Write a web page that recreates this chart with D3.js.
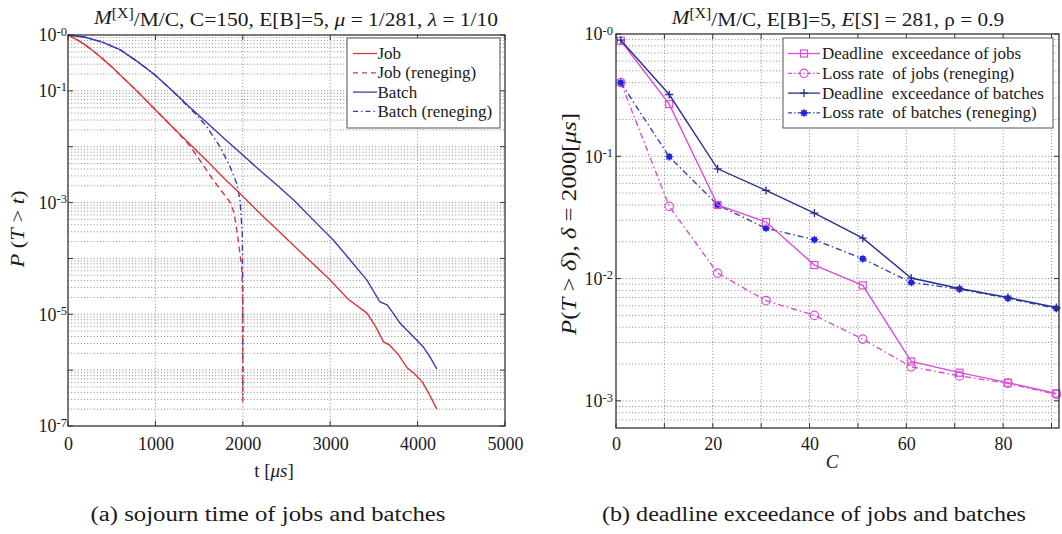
<!DOCTYPE html>
<html><head><meta charset="utf-8">
<script src="https://cdn.jsdelivr.net/npm/d3@7"></script>
<style>
body{margin:0;background:#fff}
text{font-family:"Liberation Serif","Times New Roman",serif;fill:#1a1a1a}
.grid{stroke:#8a8a8a;stroke-width:1;stroke-dasharray:1,2.2;fill:none}
</style></head><body>
<svg id="c" width="1062" height="534"></svg>
<script>
// ---------------- DATA (left: sojourn time) ----------------
const jobT = [0,100,200,300,400,500,600,700,800,900,1000,1200,1400,1600,1800,2000,2200,2400,2600,2800,3000,3200,3420,3520,3610,3680,3780,3880,3960,4050,4130,4220];
const jobP = [1,0.83,0.66,0.50,0.37,0.27,0.19,0.135,0.095,0.066,0.046,0.022,0.011,5.4e-3,2.6e-3,1.3e-3,6.3e-4,3.2e-4,1.6e-4,8.1e-5,4.1e-5,1.9e-5,1.05e-5,6.0e-6,3.2e-6,2.8e-6,1.9e-6,1.1e-6,8.7e-7,6.3e-7,3.8e-7,2.0e-7];
const jobRenT = [0,100,200,300,400,500,600,700,800,900,1000,1200,1360,1450,1550,1650,1750,1854,1900,1937,1965,1987,1997,2000,2000];
const jobRenP = [1,0.83,0.66,0.50,0.37,0.27,0.19,0.135,0.095,0.066,0.046,0.022,0.012,7.8e-3,4.6e-3,2.7e-3,1.66e-3,1.02e-3,6.6e-4,2.8e-4,1.3e-4,7e-5,2.5e-5,6e-6,2.6e-7];
const batchT = [0,200,400,600,800,1000,1200,1400,1600,1800,2000,2200,2400,2600,2800,3040,3230,3420,3570,3650,3720,3800,3950,4065,4140,4220];
const batchP = [1,0.91,0.74,0.54,0.33,0.19,0.098,0.05,0.026,0.0135,7.1e-3,3.7e-3,2.0e-3,1.05e-3,5.0e-4,2.1e-4,9.3e-5,4.1e-5,1.66e-5,1.48e-5,1.05e-5,6.9e-6,4.0e-6,2.6e-6,1.74e-6,1.05e-6];
const batchRenT = [0,200,400,600,800,1000,1200,1300,1450,1586,1739,1854,1930,1968,1994,2000,2000];
const batchRenP = [1,0.91,0.74,0.54,0.33,0.19,0.098,0.068,0.040,0.023,0.010,4.4e-3,2.2e-3,1.1e-3,2.8e-4,1.8e-5,3.5e-7];
const xTicksL = [0,1000,2000,3000,4000,5000];
const yTicksL = [1,1e-1,1e-3,1e-5,1e-7];
const yTickLabL = ["-0","-1","-3","-5","-7"];

// ---------------- DATA (right: deadline exceedance) ----------------
const cVals = [1,11,21,31,41,51,61,71,81,91];
const jobDeadline = [0.88,0.267,0.040,0.029,0.0129,0.0088,0.0021,0.0017,0.00141,0.00115];
const jobLoss = [0.40,0.039,0.0111,0.0066,0.0050,0.0032,0.0019,0.0016,0.00139,0.00113];
const batchDeadline = [0.89,0.32,0.079,0.0526,0.0343,0.0214,0.0101,0.0083,0.0070,0.0058];
const batchLoss = [0.40,0.099,0.040,0.0258,0.0208,0.0145,0.0093,0.0082,0.0069,0.0057];
const xTicksR = [0,20,40,60,80];
const xGridR = [10,20,30,40,50,60,70,80,90];
const yTicksR = [1,1e-1,1e-2,1e-3];
const yTickLabR = ["-0","-1","-2","-3"];

// ---------------- DRAW ----------------
const svg = d3.select("#c");
const RED = "#d63a3a", BLUE = "#3b3bb0", MAG = "#d94fd6", NAVY = "#27308f", BBLUE = "#2222e6";

function minorLogs(lo, hi){ const out=[]; for(let e=Math.floor(Math.log10(lo)); e<Math.ceil(Math.log10(hi)); e++){ for(let k=1;k<=9;k++){ const v=k*Math.pow(10,e); if(v>lo*1.0001 && v<hi*0.9999) out.push(v);} } return out; }

function frame(g, B){
  g.append("rect").attr("x",B.x0).attr("y",B.y0).attr("width",B.x1-B.x0).attr("height",B.y1-B.y0)
   .attr("fill","none").attr("stroke","#333").attr("stroke-width",1.3);
}
function styleAxis(ax){
  ax.attr("font-family",null).attr("font-size",null);
  ax.select(".domain").remove();
  ax.selectAll(".tick line").remove();
  ax.selectAll("text").style("font-size","18px").attr("fill","#1a1a1a");
}
function supLabels(ax, labs){
  ax.selectAll(".tick text").each(function(d,i){
    const t = d3.select(this); t.text("");
    t.append("tspan").text("10");
    t.append("tspan").attr("dy","-0.45em").style("font-size","12.5px").text(labs[i]);
  });
}
function ticksIn(g, B, xs, x, ys, y){
  xs.forEach(v=>{ g.append("line").attr("x1",x(v)).attr("x2",x(v)).attr("y1",B.y1).attr("y2",B.y1-5).attr("stroke","#333");
                  g.append("line").attr("x1",x(v)).attr("x2",x(v)).attr("y1",B.y0).attr("y2",B.y0+5).attr("stroke","#333");});
  ys.forEach(v=>{ g.append("line").attr("x1",B.x0).attr("x2",B.x0+5).attr("y1",y(v)).attr("y2",y(v)).attr("stroke","#333");
                  g.append("line").attr("x1",B.x1).attr("x2",B.x1-5).attr("y1",y(v)).attr("y2",y(v)).attr("stroke","#333");});
}

// ===== LEFT CHART =====
const L = {x0:68, x1:505, y0:35, y1:426};
const xL = d3.scaleLinear().domain([0,5000]).range([L.x0,L.x1]);
const yL = d3.scaleLog().domain([1e-7,1]).range([L.y1,L.y0]);
const gL = svg.append("g");
gL.append("rect").attr("x",L.x0).attr("y",L.y0).attr("width",L.x1-L.x0).attr("height",L.y1-L.y0).attr("fill","#fff");
minorLogs(1e-7,1).forEach(v=>gL.append("line").attr("class","grid").attr("x1",L.x0).attr("x2",L.x1).attr("y1",yL(v)).attr("y2",yL(v)));
[1000,2000,3000,4000].forEach(v=>gL.append("line").attr("class","grid").attr("x1",xL(v)).attr("x2",xL(v)).attr("y1",L.y0).attr("y2",L.y1));

const lineL = (T,P)=> d3.line().x((d,i)=>xL(T[i])).y((d,i)=>yL(P[i]))(T);
const seriesL = [
  {T:batchT,P:batchP,c:BLUE,dash:null},
  {T:batchRenT,P:batchRenP,c:BLUE,dash:"6,3,1.5,3"},
  {T:jobT,P:jobP,c:RED,dash:null},
  {T:jobRenT,P:jobRenP,c:RED,dash:"6,4"}
];
seriesL.forEach(s=>gL.append("path").attr("d",lineL(s.T,s.P)).attr("fill","none").attr("stroke",s.c)
  .attr("stroke-width",1.4).attr("stroke-dasharray",s.dash));
frame(gL,L);
ticksIn(gL,L,xTicksL,xL,[1,1e-1,1e-2,1e-3,1e-4,1e-5,1e-6,1e-7],yL);

const axXL = gL.append("g").attr("transform",`translate(0,${L.y1})`).call(d3.axisBottom(xL).tickValues(xTicksL).tickSize(0).tickPadding(11).tickFormat(d3.format("d")));
styleAxis(axXL);
const axYL = gL.append("g").attr("transform",`translate(${L.x0},0)`).call(d3.axisLeft(yL).tickValues(yTicksL).tickSize(0).tickPadding(1));
styleAxis(axYL); supLabels(axYL,yTickLabL);

// legend left
const legL = [{name:"Job",c:RED,dash:null},{name:"Job (reneging)",c:RED,dash:"5,4"},{name:"Batch",c:BLUE,dash:null},{name:"Batch (reneging)",c:BLUE,dash:"5,3,1.5,3"}];
gL.append("rect").attr("x",347).attr("y",38).attr("width",153).attr("height",90).attr("fill","#fff").attr("stroke","#555").attr("stroke-width",1);
legL.forEach((s,i)=>{
  const y = 53.5 + i*19.3;
  gL.append("line").attr("x1",353).attr("x2",377).attr("y1",y).attr("y2",y).attr("stroke",s.c).attr("stroke-width",1.3).attr("stroke-dasharray",s.dash);
  gL.append("text").attr("x",377.5).attr("y",y+5.5).style("font-size","17px").text(s.name);
});
// titles / labels left
const tL = gL.append("g").attr("transform","translate(296,24) scale(1.13,1)")
  .append("text").attr("text-anchor","middle").style("font-size","19px");
tL.append("tspan").style("font-style","italic").text("M");
tL.append("tspan").attr("dy","-0.45em").style("font-size","14px").text("[X]");
tL.append("tspan").attr("dy","0.45em").text("/M/C, C=150, E[B]=5, ");
tL.append("tspan").style("font-style","italic").text("μ");
tL.append("tspan").text(" = 1/281, ");
tL.append("tspan").style("font-style","italic").text("λ");
tL.append("tspan").text(" = 1/10");

const xlabL = gL.append("text").attr("x",274).attr("y",477).attr("text-anchor","middle").style("font-size","19px");
xlabL.append("tspan").text("t [");
xlabL.append("tspan").style("font-style","italic").text("μs");
xlabL.append("tspan").text("]");

const ylabL = gL.append("text").attr("transform","translate(24,229) rotate(-90)").attr("text-anchor","middle").style("font-size","19px")
  .attr("textLength",77).attr("lengthAdjust","spacingAndGlyphs");
ylabL.append("tspan").style("font-style","italic").text("P");
ylabL.append("tspan").text(" (");
ylabL.append("tspan").style("font-style","italic").text("T");
ylabL.append("tspan").text(" > ");
ylabL.append("tspan").style("font-style","italic").text("t");
ylabL.append("tspan").text(")");

gL.append("text").attr("x",268).attr("y",521).attr("text-anchor","middle").style("font-size","20px").attr("textLength",355).attr("lengthAdjust","spacingAndGlyphs").text("(a) sojourn time of jobs and batches");

// ===== RIGHT CHART =====
const R = {x0:616, x1:1059, y0:34, y1:428};
const xR = d3.scaleLinear().domain([0,91.55]).range([R.x0,R.x1]);
const yR = d3.scaleLog().domain([6e-4,1]).range([R.y1,R.y0]);
const gR = svg.append("g");
gR.append("rect").attr("x",R.x0).attr("y",R.y0).attr("width",R.x1-R.x0).attr("height",R.y1-R.y0).attr("fill","#fff");
minorLogs(6e-4,1).forEach(v=>gR.append("line").attr("class","grid").attr("x1",R.x0).attr("x2",R.x1).attr("y1",yR(v)).attr("y2",yR(v)));
xGridR.forEach(v=>gR.append("line").attr("class","grid").attr("x1",xR(v)).attr("x2",xR(v)).attr("y1",R.y0).attr("y2",R.y1));

const lineR = vals => d3.line().x((d,i)=>xR(cVals[i])).y(d=>yR(d))(vals);
const seriesR = [
  {v:jobLoss,c:MAG,dash:"6,3,1.5,3",m:"circle",name:"Loss rate  of jobs (reneging)"},
  {v:batchLoss,c:"#3a46a8",dash:"6,3,1.5,3",m:"star",name:"Loss rate  of batches (reneging)"},
  {v:jobDeadline,c:MAG,dash:null,m:"square",name:"Deadline  exceedance of jobs"},
  {v:batchDeadline,c:NAVY,dash:null,m:"plus",name:"Deadline  exceedance of batches"}
];
function marker(g,type,x,y){
  if(type==="square") g.append("rect").attr("x",x-3.5).attr("y",y-3.5).attr("width",7).attr("height",7).attr("fill","none").attr("stroke",MAG).attr("stroke-width",1.2);
  else if(type==="circle") g.append("circle").attr("cx",x).attr("cy",y).attr("r",4.2).attr("fill","none").attr("stroke",MAG).attr("stroke-width",1.2);
  else if(type==="plus"){ g.append("path").attr("d",`M${x-4},${y}H${x+4}M${x},${y-4}V${y+4}`).attr("stroke",NAVY).attr("stroke-width",1.3); }
  else { g.append("path").attr("d",`M${x-4},${y}H${x+4}M${x},${y-4}V${y+4}M${x-3},${y-3}L${x+3},${y+3}M${x-3},${y+3}L${x+3},${y-3}`).attr("stroke",BBLUE).attr("stroke-width",1);
         g.append("circle").attr("cx",x).attr("cy",y).attr("r",3).attr("fill",BBLUE); }
}
seriesR.forEach(s=>{
  gR.append("path").attr("d",lineR(s.v)).attr("fill","none").attr("stroke",s.c).attr("stroke-width",1.4).attr("stroke-dasharray",s.dash);
  s.v.forEach((d,i)=>marker(gR,s.m,xR(cVals[i]),yR(d)));
});
frame(gR,R);
ticksIn(gR,R,xGridR.concat([0]),xR,[1,1e-1,1e-2,1e-3],yR);

const axXR = gR.append("g").attr("transform",`translate(0,${R.y1})`).call(d3.axisBottom(xR).tickValues(xTicksR).tickSize(0).tickPadding(9).tickFormat(d3.format("d")));
styleAxis(axXR);
const axYR = gR.append("g").attr("transform",`translate(${R.x0},0)`).call(d3.axisLeft(yR).tickValues(yTicksR).tickSize(0).tickPadding(3));
styleAxis(axYR); supLabels(axYR,yTickLabR);

// legend right
const legR = [seriesR[2],seriesR[0],seriesR[3],seriesR[1]];
gR.append("rect").attr("x",783).attr("y",38).attr("width",270).attr("height",90).attr("fill","#fff").attr("stroke","#555").attr("stroke-width",1);
legR.forEach((s,i)=>{
  const y = 53.5 + i*19.8;
  gR.append("line").attr("x1",788).attr("x2",820).attr("y1",y).attr("y2",y).attr("stroke",s.c).attr("stroke-width",1.3).attr("stroke-dasharray",s.dash?"4,2,1.5,2":null);
  marker(gR,s.m,804,y);
  gR.append("text").attr("x",822).attr("y",y+5.5).style("font-size","17px").style("white-space","pre").text(s.name);
});

const tR = gR.append("g").attr("transform","translate(838,24) scale(1.12,1)")
  .append("text").attr("text-anchor","middle").style("font-size","19px");
tR.append("tspan").style("font-style","italic").text("M");
tR.append("tspan").attr("dy","-0.45em").style("font-size","14px").text("[X]");
tR.append("tspan").attr("dy","0.45em").text("/M/C, E[B]=5, ");
tR.append("tspan").style("font-style","italic").text("E");
tR.append("tspan").text("[");
tR.append("tspan").style("font-style","italic").text("S");
tR.append("tspan").text("] = 281, ρ = 0.9");

gR.append("text").attr("x",832).attr("y",468).attr("text-anchor","middle").style("font-size","19px").style("font-style","italic").text("C");

const ylabR = gR.append("text").attr("transform","translate(576,224) rotate(-90)").attr("text-anchor","middle").style("font-size","20px")
  .attr("textLength",222).attr("lengthAdjust","spacingAndGlyphs");
ylabR.append("tspan").style("font-style","italic").text("P");
ylabR.append("tspan").text("(");
ylabR.append("tspan").style("font-style","italic").text("T");
ylabR.append("tspan").text(" > ");
ylabR.append("tspan").style("font-style","italic").text("δ");
ylabR.append("tspan").text("), ");
ylabR.append("tspan").style("font-style","italic").text("δ");
ylabR.append("tspan").text(" = 2000[");
ylabR.append("tspan").style("font-style","italic").text("μs");
ylabR.append("tspan").text("]");

gR.append("text").attr("x",814).attr("y",521).attr("text-anchor","middle").style("font-size","20px").attr("textLength",424).attr("lengthAdjust","spacingAndGlyphs").text("(b) deadline exceedance of jobs and batches");
</script></body></html>
